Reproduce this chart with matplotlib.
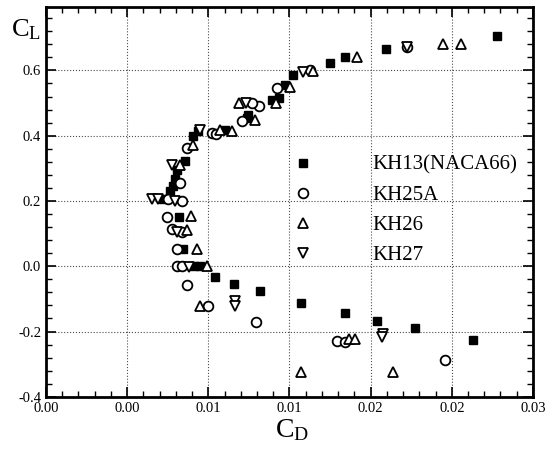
import numpy as np
import matplotlib
matplotlib.use('Agg')
import matplotlib.pyplot as plt
from matplotlib.ticker import MultipleLocator

plt.rcParams['font.family'] = ['Liberation Serif', 'DejaVu Serif']
plt.rcParams['mathtext.fontset'] = 'stix'

# KH13(NACA66) - filled squares
kh13_cd = [0.0278, 0.02094, 0.01841, 0.01749, 0.01523, 0.01472, 0.01435, 0.0139, 0.01246,
           0.01236, 0.0110, 0.00938, 0.00907, 0.00856, 0.00805, 0.00794, 0.00784, 0.00764,
           0.00722, 0.00820, 0.00845, 0.0091, 0.0095, 0.0104, 0.0116, 0.01318, 0.01574,
           0.01841, 0.0204, 0.02272, 0.02631]
kh13_cl = [0.706, 0.665, 0.640, 0.624, 0.586, 0.556, 0.515, 0.510, 0.464,
           0.454, 0.418, 0.413, 0.398, 0.322, 0.296, 0.266, 0.245, 0.230,
           0.205, 0.152, 0.054, 0.0, 0.0, -0.033, -0.055, -0.077, -0.111,
           -0.144, -0.167, -0.190, -0.226]

# KH25A - open circles
kh25a_cd = [0.02225, 0.01626, 0.01421, 0.0131, 0.0127, 0.01205, 0.0102, 0.0105, 0.00866,
            0.00825, 0.00753, 0.00836, 0.00743, 0.00774, 0.00836, 0.00805, 0.0081, 0.0084,
            0.0087, 0.0100, 0.01293, 0.0179, 0.01841, 0.02457]
kh25a_cl = [0.673, 0.601, 0.546, 0.492, 0.500, 0.444, 0.408, 0.405, 0.362,
            0.256, 0.205, 0.199, 0.152, 0.113, 0.105, 0.054, 0.001, 0.0,
            -0.058, -0.121, -0.172, -0.228, -0.231, -0.287]

# KH26 - open triangles
kh26_cd = [0.02556, 0.02443, 0.01913, 0.01646, 0.01502, 0.0142, 0.0119, 0.01287, 0.01143,
           0.0107, 0.00907, 0.00825, 0.00891, 0.00866, 0.00932, 0.0099, 0.00948, 0.01868,
           0.01903, 0.01574, 0.02135]
kh26_cl = [0.680, 0.680, 0.640, 0.598, 0.549, 0.500, 0.500, 0.449, 0.413,
           0.418, 0.372, 0.311, 0.155, 0.110, 0.054, 0.001, -0.121, -0.223,
           -0.223, -0.325, -0.325]

# KH27 - open inverted triangles
kh27_cd = [0.02225, 0.01584, 0.0123, 0.0095, 0.00774, 0.00651, 0.00692, 0.00794, 0.00805,
           0.0088, 0.01164, 0.01164, 0.02077, 0.02067]
kh27_cl = [0.673, 0.596, 0.500, 0.418, 0.311, 0.205, 0.205, 0.200, 0.105,
           -0.003, -0.106, -0.121, -0.208, -0.218]

xticks = [0.0, 0.005, 0.01, 0.015, 0.02, 0.025, 0.03]
xtick_labels = ['0.00', '0.00', '0.01', '0.01', '0.02', '0.02', '0.03']
yticks = [-0.4, -0.2, 0.0, 0.2, 0.4, 0.6]
ytick_labels = ['-0.4', '-0.2', '0.0', '0.2', '0.4', '0.6']

fig = plt.figure(figsize=(5.54, 4.53), dpi=100)
ax = fig.add_axes([0.083, 0.124, 0.879, 0.861])

ax.plot(kh13_cd, kh13_cl, 's', ms=5.8, color='black', mec='black', label='KH13(NACA66)')
ax.plot(kh25a_cd, kh25a_cl, 'o', ms=7, mfc='white', mec='black', mew=1.3, label='KH25A')
ax.plot(kh26_cd, kh26_cl, '^', ms=6.5, mfc='white', mec='black', mew=1.3, label='KH26')
ax.plot(kh27_cd, kh27_cl, 'v', ms=6.5, mfc='white', mec='black', mew=1.3, label='KH27')

ax.set_xlim(0, 0.03)
ax.set_ylim(-0.4, 0.795)
ax.set_xticks(xticks)
ax.set_xticklabels(xtick_labels)
ax.set_yticks(yticks)
ax.set_yticklabels(ytick_labels)
ax.xaxis.set_minor_locator(MultipleLocator(0.001))
ax.yaxis.set_minor_locator(MultipleLocator(0.04))
ax.tick_params(which='both', direction='in', top=True, right=True, labelsize=10.5)
ax.tick_params(which='major', length=7, width=1.2)
ax.tick_params(which='minor', length=4, width=1)
ax.grid(True, which='major', linestyle=':', color='black', linewidth=0.8, alpha=0.7)
ax.set_axisbelow(True)
for s in ax.spines.values():
    s.set_linewidth(2)

fig.text(0.02, 0.92, r'$\mathregular{C_L}$', fontsize=19)
fig.text(0.497, 0.035, r'$\mathregular{C_D}$', fontsize=20)

leg = ax.legend(loc='upper left', bbox_to_anchor=(0.507, 0.619), frameon=False,
                fontsize=15, handlelength=1.0, handletextpad=2.8, labelspacing=0.5,
                borderpad=0, borderaxespad=0)

fig.savefig('out.png', dpi=100)
